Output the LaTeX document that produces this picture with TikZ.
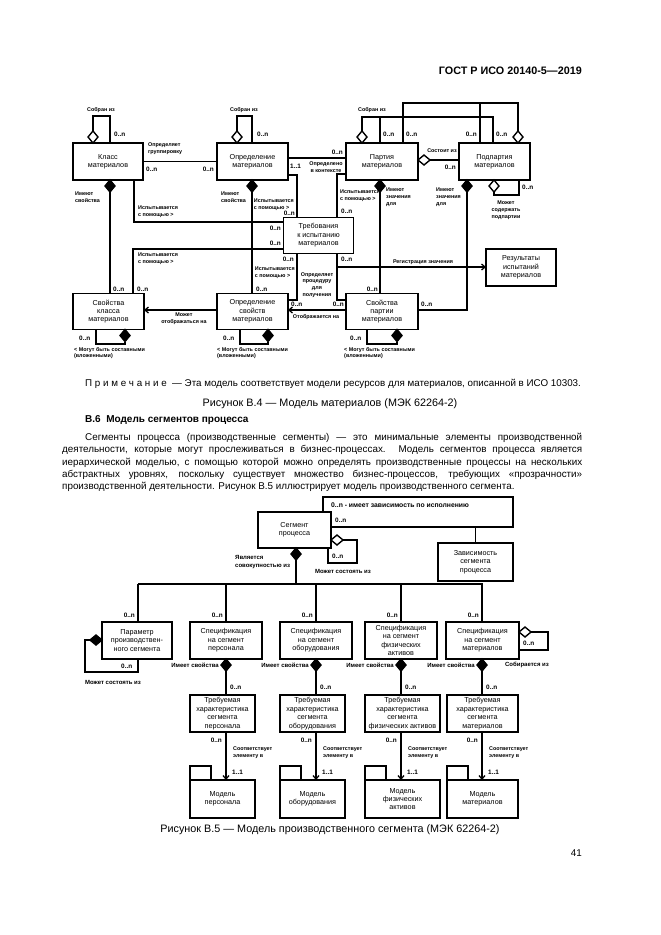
\documentclass[tikz,border=0pt]{standalone}
\usepackage{fontspec}
\setmainfont{Liberation Sans}
\usetikzlibrary{arrows.meta}
\newcommand{\dDown}[3]{\draw[ln,fill=#3] (#1,#2) -- ++(5,6) -- ++(-5,6) -- ++(-5,-6) -- cycle;}
\newcommand{\dUp}[3]{\draw[ln,fill=#3] (#1,#2) -- ++(5,-6) -- ++(-5,-6) -- ++(-5,6) -- cycle;}
\newcommand{\dRight}[3]{\draw[ln,fill=#3] (#1,#2) -- ++(6,-5) -- ++(6,5) -- ++(-6,5) -- cycle;}
\newcommand{\dLeft}[3]{\draw[ln,fill=#3] (#1,#2) -- ++(-6,-5) -- ++(-6,5) -- ++(6,5) -- cycle;}
\begin{document}
\begin{tikzpicture}[x=1pt,y=-1pt,
  box/.style={draw,line width=1.4pt,align=center,inner sep=0pt,font=\fontsize{7.2}{8.4}\selectfont},
  lb/.style={inner sep=0pt,align=left,font=\bfseries\fontsize{5.4}{6.8}\selectfont},
  lbc/.style={lb,align=center},
  lbb/.style={inner sep=0pt,align=left,font=\bfseries\fontsize{6}{7.2}\selectfont},
  lbbc/.style={lbb,align=center},
  mu/.style={inner sep=0pt,font=\bfseries\fontsize{6.4}{7}\selectfont},
  ln/.style={line width=1.4pt},
  arr/.style={ln,-{Straight Barb[length=3.5pt,width=6pt,line width=1.3pt]}},
  txt/.style={inner sep=0pt,font=\fontsize{9.85}{12}\selectfont},
  captxt/.style={inner sep=0pt,font=\fontsize{10.8}{12}\selectfont}]
\useasboundingbox (0,0) rectangle (661,935);
\fill[white] (0,0) rectangle (661,935);

% ---------- header ----------
\node[anchor=base east,inner sep=0pt,font=\bfseries\fontsize{10.8}{12}\selectfont] (hdr) at (582,74) {ГОСТ Р ИСО 20140-5—2019};

% ---------- Figure B.4 boxes ----------
\node[box,minimum width=70pt,minimum height=37pt] (kl) at (108,161.5) {Класс\\материалов};
\node[box,minimum width=71pt,minimum height=37pt] (om) at (252.5,161.5) {Определение\\материалов};
\node[box,minimum width=72pt,minimum height=37pt] (pm) at (382,161.5) {Партия\\материалов};
\node[box,minimum width=71pt,minimum height=37pt] (ppm) at (494.5,161.5) {Подпартия\\материалов};
\node[box,minimum width=70pt,minimum height=36pt] (tr) at (318.5,235.5) {Требования\\к испытанию\\материалов};
\node[box,minimum width=70pt,minimum height=37pt] (rez) at (521,267.5) {Результаты\\испытаний\\материалов};
\node[box,minimum width=71pt,minimum height=36pt] (skm) at (108.5,311.5) {Свойства\\класса\\материалов};
\node[box,minimum width=71pt,minimum height=36pt] (osm) at (252.5,311.5) {Определение\\свойств\\материалов};
\node[box,minimum width=72pt,minimum height=36pt] (spm) at (382,311.5) {Свойства\\партии\\материалов};

% kl self
\dUp{93}{143}{white}
\draw[ln] (93,131) -- (93,116) -- (110,116) -- (110,143);
\node[lbc] (a1) at (101,110) {Собран из};
\node[mu,anchor=west] (a2) at (114,134) {0..n};
% om self
\dUp{237}{143}{white}
\draw[ln] (237,131) -- (237,116) -- (252,116) -- (252,143);
\node[lbc] (a3) at (244,110) {Собран из};
\node[mu,anchor=west] (a4) at (257,134) {0..n};
% kl - om
\draw[ln] (kl.east) -- (om.west);
\node[lb,anchor=west] (a5) at (148,149) {Определяет\\группировку};
\node[mu,anchor=west] (a6) at (146,169) {0..n};
\node[mu,anchor=east] (a7) at (214,169) {0..n};
% kl composition
\dDown{110}{180}{black}
\draw[ln] (110,192) -- (110,293.5);
\node[lb,anchor=west] (a8) at (75,197) {Имеют\\свойства};
\node[mu,anchor=west] (a9) at (113,289) {0..n};
% kl tested
\draw[ln] (134,180) -- (134,222) -- (283.5,222);
\node[lb,anchor=west] (a10) at (138,212) {Испытывается\\с помощью >};
\node[mu,anchor=east] (a11) at (281,228) {0..n};
% skm tested
\draw[ln] (133,293.5) -- (133,249) -- (283.5,249);
\node[lb,anchor=west] (a12) at (138,259) {Испытывается\\с помощью >};
\node[mu,anchor=east] (a13) at (281,243) {0..n};
\node[mu,anchor=west] (a14) at (137,289) {0..n};
% om composition
\dDown{252}{180}{black}
\draw[ln] (252,192) -- (252,293.5);
\node[lb,anchor=west] (a15) at (221,197) {Имеют\\свойства};
\node[mu,anchor=west] (a16) at (256,289) {0..n};
% om tested
\draw[ln] (288,175) -- (297,175) -- (297,217.5);
\node[lb,anchor=east] (a17) at (294,205) {Испытывается\\с помощью >};
\node[mu,anchor=east] (a18) at (295,213.5) {0..n};
% om - pm
\draw[ln] (288,158) -- (346,158);
\node[mu,anchor=east] (a19) at (343,152) {0..n};
\node[mu,anchor=west] (a20) at (290,166) {1..1};
\node[lbc] (a21) at (326,167) {Определено\\в контексте};
% pm / ppm aggregation
\dUp{362}{143}{white}
\draw[ln] (362,131) -- (362,117) -- (493,117) -- (493,143);
\draw[ln] (380,117) -- (380,143);
\dUp{518}{143}{white}
\draw[ln] (518,131) -- (518,103) -- (403,103) -- (403,143);
\draw[ln] (480,103) -- (480,143);
\node[lbc] (a22) at (372,110) {Собран из};
\node[mu,anchor=west] (a23) at (383,134) {0..n};
\node[mu,anchor=west] (a24) at (406,134) {0..n};
\node[mu,anchor=east] (a25) at (477,134) {0..n};
\node[mu,anchor=west] (a26) at (496,134) {0..n};
% pm - ppm
\dRight{418}{160}{white}
\draw[ln] (430,160) -- (459,160);
\node[lbc] (a27) at (442,151) {Состоит из};
\node[mu,anchor=east] (a28) at (456,167) {0..n};
% ppm self
\dDown{494}{180}{white}
\draw[ln] (494,192) -- (494,195) -- (519,195) -- (519,180);
\node[mu,anchor=west] (a29) at (522,187) {0..n};
\node[lbc] (a30) at (506,210) {Может\\содержать\\подпартии};
% pm composition
\dDown{380}{180}{black}
\draw[ln] (380,192) -- (380,293.5);
\node[lb,anchor=west] (a31) at (386,197) {Имеют\\значения\\для};
\node[mu,anchor=east] (a32) at (378,289) {0..n};
% ppm composition
\dDown{467}{180}{black}
\draw[ln] (467,192) -- (467,310) -- (418,310);
\node[lb,anchor=west] (a33) at (436,197) {Имеют\\значения\\для};
\node[mu,anchor=west] (a34) at (421,304) {0..n};
% pm tested
\draw[ln] (346,174) -- (337,174) -- (337,217.5);
\node[lb,anchor=west] (a35) at (340,196) {Испытывается\\с помощью >};
\node[mu,anchor=west] (a36) at (341,211) {0..n};
% tr -> spm
\draw[ln] (337,253.5) -- (337,300) -- (346,300);
\node[mu,anchor=west] (a37) at (341,259) {0..n};
\node[lbc] (a38) at (317,285) {Определяет\\процедуру\\для\\получения};
% registration
\draw[arr] (337,267) -- (486,267);
\node[lbc] (a39) at (423,262) {Регистрация значения};
% osm tested
\draw[ln] (297,253.5) -- (297,300) -- (288,300);
\node[lb,anchor=east] (a40) at (295,273) {Испытывается\\с помощью >};
\node[mu,anchor=east] (a41) at (294,259) {0..n};
% osm - spm
\draw[arr] (346,310) -- (288,310);
\node[mu,anchor=west] (a42) at (291,304) {0..n};
\node[mu,anchor=east] (a43) at (344,304) {0..n};
\node[lbc] (a44) at (316,317) {Отображается на};
% skm - osm
\draw[arr] (217,310) -- (144,310);
\node[lbc] (a45) at (184,319) {Может\\отображаться на};
% bottom self loops
\dDown{125}{329.5}{black}
\draw[ln] (125,341.5) -- (125,344) -- (96,344) -- (96,329.5);
\node[mu,anchor=west] (a46) at (79,338) {0..n};
\node[lb,anchor=west] (a47) at (74,353) {< Могут быть составными\\(вложенными)};
\dDown{268}{329.5}{black}
\draw[ln] (268,341.5) -- (268,344) -- (240,344) -- (240,329.5);
\node[mu,anchor=west] (a48) at (223,338) {0..n};
\node[lb,anchor=west] (a49) at (217,353) {< Могут быть составными\\(вложенными)};
\dDown{397}{329.5}{black}
\draw[ln] (397,341.5) -- (397,344) -- (367,344) -- (367,329.5);
\node[mu,anchor=west] (a50) at (350,338) {0..n};
\node[lb,anchor=west] (a51) at (344,353) {< Могут быть составными\\(вложенными)};

% ---------- text ----------
\node[anchor=base west,inner sep=0pt,font=\fontsize{9.8}{11}\selectfont] (note) at (85,386.5) {П р и м е ч а н и е~ — Эта модель соответствует модели ресурсов для материалов, описанной в ИСО 10303.};
\node[anchor=base,captxt] (cap4) at (330,406.5) {Рисунок В.4 — Модель материалов (МЭК 62264-2)};
\node[anchor=base west,inner sep=0pt,font=\bfseries\fontsize{10}{12}\selectfont] (head) at (85,422.5) {В.6~~Модель сегментов процесса};
\node[anchor=base west,txt] (p1) at (85,440.5) {\makebox[497pt][s]{Сегменты процесса (производственные сегменты) — это минимальные элементы производственной}};
\node[anchor=base west,txt] (p2) at (62,452.8) {\makebox[520pt][s]{деятельности, которые могут прослеживаться в бизнес-процессах. Модель сегментов процесса является}};
\node[anchor=base west,txt] (p3) at (62,465.1) {\makebox[520pt][s]{иерархической моделью, с помощью которой можно определять производственные процессы на нескольких}};
\node[anchor=base west,txt] (p4) at (62,477.4) {\makebox[520pt][s]{абстрактных уровнях, поскольку существует множество бизнес-процессов, требующих «прозрачности»}};
\node[anchor=base west,txt] (p5) at (62,489.7) {производственной деятельности. Рисунок В.5 иллюстрирует модель производственного сегмента.};

% ---------- Figure B.5 ----------
\node[box,minimum width=73pt,minimum height=36pt] (seg) at (294.5,530) {Сегмент\\процесса};
\draw[ln] (323,512) -- (323,497) -- (513,497) -- (513,527) -- (331,527);
\node[lbb,anchor=west,font=\bfseries\fontsize{6.8}{8}\selectfont] (b1) at (331,505) {0..n - имеет зависимость по исполнению};
\node[mu,anchor=west] (b2) at (335,520) {0..n};
\node[box,minimum width=75pt,minimum height=38pt] (zav) at (475.5,562) {Зависимость\\сегмента\\процесса};
\draw[ln] (475.5,527) -- (zav.north);
\dRight{331}{540}{white}
\draw[ln] (343,540) -- (357,540) -- (357,563) -- (328,563) -- (328,548);
\node[mu,anchor=west] (b3) at (332,556) {0..n};
\node[lbbc] (b4) at (343,571) {Может состоять из};
\dDown{296}{548}{black}
\draw[ln] (296,560) -- (296,584);
\node[lbb,anchor=west] (b5) at (235,562) {Является\\совокупностью из};
\draw[ln] (138,584) -- (483,584);
\foreach \xx in {138,226,316,401,482}{\draw[ln] (\xx,584) -- (\xx,622);}
\node[box,minimum width=70pt,minimum height=37pt] (par) at (137,640.5) {Параметр\\производствен-\\ного сегмента};
\node[box,minimum width=72pt,minimum height=37pt] (sp1) at (226,640.5) {Спецификация\\на сегмент\\персонала};
\node[box,minimum width=72pt,minimum height=37pt] (sp2) at (316,640.5) {Спецификация\\на сегмент\\оборудования};
\node[box,minimum width=72pt,minimum height=37pt] (sp3) at (401,640.5) {Спецификация\\на сегмент\\физических\\активов};
\node[box,minimum width=73pt,minimum height=37pt] (sp4) at (482.5,640.5) {Спецификация\\на сегмент\\материалов};
\node[mu,anchor=east] (c1) at (135,615) {0..n};
\node[mu,anchor=east] (c2) at (223,615) {0..n};
\node[mu,anchor=east] (c3) at (313,615) {0..n};
\node[mu,anchor=east] (c4) at (398,615) {0..n};
\node[mu,anchor=east] (c5) at (479,615) {0..n};
% par self
\dLeft{102}{640}{black}
\draw[ln] (90,640) -- (85,640) -- (85,672) -- (138,672) -- (138,659);
\node[mu,anchor=west] (c6) at (121,666) {0..n};
\node[lbbc] (c7) at (113,682) {Может состоять из};
% sp4 self
\dRight{519}{632}{white}
\draw[ln] (531,632) -- (548,632) -- (548,650) -- (519,650);
\node[mu,anchor=west] (c8) at (523,643) {0..n};
\node[lbbc] (c9) at (527,665) {Собирается из};
% compositions to required characteristics
\foreach \xx/\nm in {226/d1,316/d2,401/d3,482/d4}{
  \dDown{\xx}{659}{black}
  \draw[ln] (\xx,671) -- (\xx,695);
  \node[lbb,anchor=east] (\nm a) at (\xx-7,665) {Имеет свойства};
  \node[mu,anchor=west] (\nm b) at (\xx+4,687) {0..n};
}
\node[box,minimum width=65pt,minimum height=37pt] (tp1) at (222.5,713.5) {Требуемая\\характеристика\\сегмента\\персонала};
\node[box,minimum width=65pt,minimum height=37pt] (tp2) at (312.5,713.5) {Требуемая\\характеристика\\сегмента\\оборудования};
\node[box,minimum width=75pt,minimum height=37pt] (tp3) at (402.5,713.5) {Требуемая\\характеристика\\сегмента\\физических активов};
\node[box,minimum width=71pt,minimum height=37pt] (tp4) at (482.5,713.5) {Требуемая\\характеристика\\сегмента\\материалов};
% models
\node[box,minimum width=65pt,minimum height=38pt] (md1) at (222.5,799) {Модель\\персонала};
\node[box,minimum width=65pt,minimum height=38pt] (md2) at (312.5,799) {Модель\\оборудования};
\node[box,minimum width=75pt,minimum height=38pt] (md3) at (402.5,799) {Модель\\физических\\активов};
\node[box,minimum width=71pt,minimum height=38pt] (md4) at (482.5,799) {Модель\\материалов};
\foreach \xl in {190,280,365,447}{\draw[ln] (\xl,780) -- (\xl,766) -- (\xl+21,766) -- (\xl+21,780);}
\foreach \xx/\nm in {226/e1,316/e2,401/e3,482/e4}{
  \draw[arr] (\xx,732) -- (\xx,780);
  \node[mu,anchor=east] (\nm a) at (\xx-4,740) {0..n};
  \node[lb,anchor=west] (\nm b) at (\xx+7,753) {Соответствует\\элементу в};
  \node[mu,anchor=west] (\nm c) at (\xx+6,772) {1..1};
}
\node[anchor=base,captxt] (cap5) at (330,832.5) {Рисунок В.5 — Модель производственного сегмента (МЭК 62264-2)};
\node[anchor=base east,txt] (pg) at (582,856.5) {41};
\end{tikzpicture}
\end{document}
